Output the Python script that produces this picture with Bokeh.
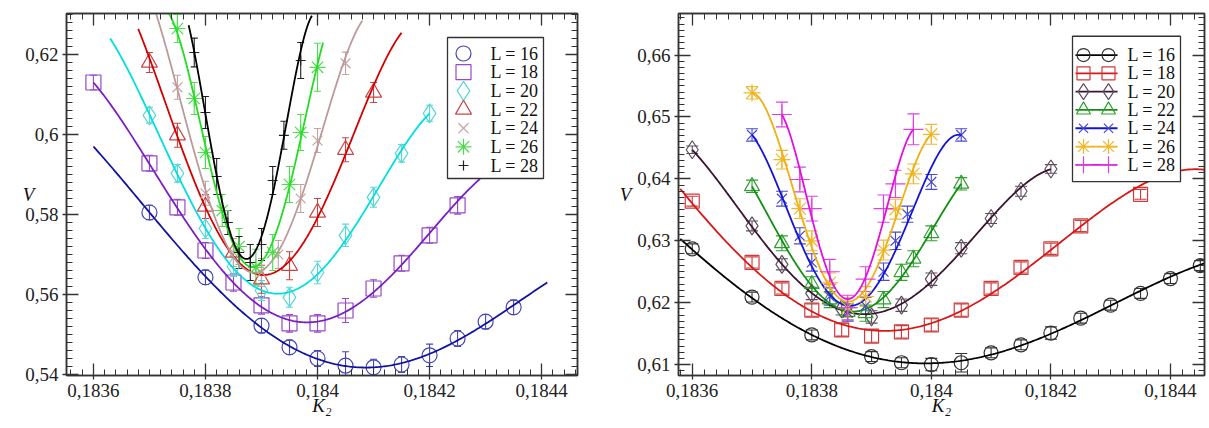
import numpy as np
from numpy.polynomial import Polynomial
from bokeh.plotting import figure
from bokeh.layouts import row
from bokeh.models import (ColumnDataSource, Whisker, TeeHead, LinearAxis, FixedTicker,
                          CustomJSTickFormatter, Range1d)
from bokeh.core.properties import value
from bokeh.embed import file_html
from bokeh.resources import INLINE

SERIF = "Liberation Serif"

sizes = ["L = 16", "L = 18", "L = 20", "L = 22", "L = 24", "L = 26", "L = 28"]

# ---------------- left panel: K2, V, error, fitted-curve end points ----------------
a16_k = [0.1837, 0.1838, 0.1839, 0.18395, 0.1840, 0.18405, 0.1841, 0.18415, 0.1842, 0.18425, 0.1843, 0.18435]
a16_v = [0.5805, 0.5643, 0.5522, 0.5468, 0.5440, 0.5422, 0.5418, 0.5425, 0.5448, 0.5490, 0.5532, 0.5568]
a16_e = [0.0018, 0.0018, 0.0018, 0.0018, 0.0020, 0.0035, 0.0020, 0.0020, 0.0028, 0.0020, 0.0018, 0.0018]
a16_ends = [(0.1836, 0.597), (0.18441, 0.563)]

a18_k = [0.1836, 0.1837, 0.18375, 0.1838, 0.18385, 0.1839, 0.18395, 0.1840, 0.18405, 0.1841, 0.18415, 0.1842, 0.18425]
a18_v = [0.6130, 0.5928, 0.5818, 0.5710, 0.5630, 0.5573, 0.5528, 0.5528, 0.5560, 0.5615, 0.5678, 0.5748, 0.5823]
a18_e = [0.0018, 0.0020, 0.0020, 0.0020, 0.0022, 0.0022, 0.0022, 0.0022, 0.0030, 0.0022, 0.0020, 0.0020, 0.0022]
a18_ends = [(0.1836, 0.613), (0.18429, 0.589)]

a20_k = [0.1837, 0.18375, 0.1838, 0.18385, 0.1839, 0.18395, 0.1840, 0.18405, 0.1841, 0.18415, 0.1842]
a20_v = [0.6048, 0.5903, 0.5765, 0.5670, 0.5610, 0.5593, 0.5655, 0.5748, 0.5843, 0.5953, 0.6053]
a20_e = [0.0020, 0.0022, 0.0025, 0.0025, 0.0025, 0.0025, 0.0028, 0.0028, 0.0025, 0.0022, 0.0020]
a20_ends = [(0.18363, 0.624), (0.1842, 0.6053)]

a22_k = [0.1837, 0.18375, 0.1838, 0.18385, 0.1839, 0.18395, 0.1840, 0.18405, 0.1841]
a22_v = [0.6180, 0.5998, 0.5820, 0.5705, 0.5638, 0.5672, 0.5805, 0.5962, 0.6105]
a22_e = [0.0025, 0.0030, 0.0030, 0.0035, 0.0035, 0.0035, 0.0035, 0.0030, 0.0025]
a22_ends = [(0.18368, 0.6265), (0.18415, 0.6255)]

a24_k = [0.18375, 0.1838, 0.18385, 0.1839, 0.18393, 0.18397, 0.1840, 0.18405]
a24_v = [0.6118, 0.5853, 0.5705, 0.5655, 0.5700, 0.5840, 0.5985, 0.6178]
a24_e = [0.0030, 0.0030, 0.0035, 0.0035, 0.0035, 0.0035, 0.0030, 0.0028]
a24_ends = [(0.18371, 0.631), (0.18408, 0.6285)]

a26_k = [0.18375, 0.18378, 0.1838, 0.18383, 0.18386, 0.18389, 0.18392, 0.18395, 0.18397, 0.1840]
a26_v = [0.6265, 0.6090, 0.5955, 0.5810, 0.5720, 0.5668, 0.5705, 0.5875, 0.6005, 0.6168]
a26_e = [0.0035, 0.0040, 0.0040, 0.0040, 0.0045, 0.0045, 0.0045, 0.0045, 0.0045, 0.0060]
a26_ends = [(0.18373, 0.631), (0.18401, 0.623)]

a28_k = [0.18378, 0.1838, 0.18382, 0.18384, 0.18386, 0.18388, 0.1839, 0.18392, 0.18394, 0.18397]
a28_v = [0.6205, 0.6055, 0.5895, 0.5780, 0.5705, 0.5680, 0.5725, 0.5885, 0.5998, 0.6185]
a28_e = [0.0036, 0.0040, 0.0045, 0.0030, 0.0040, 0.0045, 0.0040, 0.0035, 0.0035, 0.0045]
a28_ends = [(0.18377, 0.6273), (0.18399, 0.6298)]

# ---------------- right panel ----------------
b16_k = [0.1836, 0.1837, 0.1838, 0.1839, 0.18395, 0.1840, 0.18405, 0.1841, 0.18415, 0.1842, 0.18425, 0.1843, 0.18435, 0.1844, 0.18445]
b16_v = [0.6287, 0.6209, 0.6148, 0.6113, 0.6103, 0.6100, 0.6103, 0.6119, 0.6132, 0.6151, 0.6175, 0.6196, 0.6215, 0.6239, 0.6260]
b16_e = [0.0008, 0.0008, 0.0008, 0.0008, 0.0008, 0.0010, 0.0015, 0.0008, 0.0008, 0.0010, 0.0008, 0.0008, 0.0008, 0.0008, 0.0008]
b16_ends = [(0.18358, 0.6303), (0.18446, 0.6265)]

b18_k = [0.1836, 0.1837, 0.18375, 0.1838, 0.18385, 0.1839, 0.18395, 0.1840, 0.18405, 0.1841, 0.18415, 0.1842, 0.18425, 0.18435]
b18_v = [0.6364, 0.6265, 0.6223, 0.6188, 0.6156, 0.6146, 0.6153, 0.6164, 0.6188, 0.6223, 0.6257, 0.6287, 0.6324, 0.6375]
b18_e = [0.0008, 0.0009, 0.0009, 0.0010, 0.0010, 0.0010, 0.0010, 0.0010, 0.0010, 0.0009, 0.0009, 0.0009, 0.0009, 0.0008]
b18_ends = [(0.18358, 0.6383), (0.18446, 0.6415)]

b20_k = [0.1836, 0.1837, 0.18375, 0.1838, 0.18385, 0.1839, 0.18395, 0.1840, 0.18405, 0.1841, 0.18415, 0.1842]
b20_v = [0.6447, 0.6324, 0.6262, 0.6215, 0.6190, 0.6177, 0.6196, 0.6238, 0.6288, 0.6336, 0.6380, 0.6416]
b20_e = [0.0006, 0.0008, 0.0009, 0.0010, 0.0010, 0.0010, 0.0010, 0.0010, 0.0009, 0.0008, 0.0008, 0.0007]
b20_ends = [(0.1836, 0.6447), (0.1842, 0.6416)]

b22_k = [0.1837, 0.18375, 0.1838, 0.18383, 0.18386, 0.18389, 0.18392, 0.18395, 0.18397, 0.1840, 0.18405]
b22_v = [0.6388, 0.6296, 0.6230, 0.6205, 0.6185, 0.6183, 0.6205, 0.6249, 0.6271, 0.6312, 0.6392]
b22_e = [0.0010, 0.0012, 0.0012, 0.0013, 0.0013, 0.0013, 0.0013, 0.0013, 0.0013, 0.0012, 0.0010]
b22_ends = [(0.1837, 0.6388), (0.18405, 0.6392)]

b24_k = [0.1837, 0.18375, 0.18378, 0.1838, 0.18383, 0.18386, 0.18389, 0.18392, 0.18394, 0.18396, 0.1840, 0.18405]
b24_v = [0.6471, 0.6368, 0.6308, 0.6265, 0.6210, 0.6184, 0.6195, 0.6250, 0.6300, 0.6343, 0.6395, 0.6471]
b24_e = [0.0010, 0.0012, 0.0013, 0.0014, 0.0014, 0.0014, 0.0014, 0.0014, 0.0014, 0.0013, 0.0012, 0.0010]
b24_ends = [(0.1837, 0.6471), (0.18405, 0.6471)]

b26_k = [0.1837, 0.18375, 0.18378, 0.1838, 0.18383, 0.18386, 0.18389, 0.18392, 0.18394, 0.18397, 0.1840]
b26_v = [0.6539, 0.6431, 0.6352, 0.6300, 0.6232, 0.6192, 0.6210, 0.6285, 0.6351, 0.6408, 0.6472]
b26_e = [0.0010, 0.0015, 0.0016, 0.0016, 0.0016, 0.0016, 0.0016, 0.0016, 0.0016, 0.0016, 0.0016]
b26_ends = [(0.1837, 0.6539), (0.1840, 0.6472)]

b28_k = [0.18375, 0.18378, 0.1838, 0.18383, 0.18386, 0.18389, 0.18392, 0.18394, 0.18397]
b28_v = [0.6504, 0.6399, 0.6352, 0.6250, 0.6192, 0.6238, 0.6352, 0.6392, 0.6480]
b28_e = [0.0020, 0.0020, 0.0020, 0.0020, 0.0020, 0.0020, 0.0022, 0.0022, 0.0025]
b28_ends = [(0.18375, 0.6504), (0.18397, 0.6480)]

# axis ticks
left_xticks = [0.1836, 0.1838, 0.1840, 0.1842, 0.1844]
left_yticks = [0.54, 0.56, 0.58, 0.60, 0.62]
right_xticks = [0.1836, 0.1838, 0.1840, 0.1842, 0.1844]
right_yticks = [0.61, 0.62, 0.63, 0.64, 0.65, 0.66]

left_series = [(a16_k, a16_v, a16_e, a16_ends), (a18_k, a18_v, a18_e, a18_ends),
               (a20_k, a20_v, a20_e, a20_ends), (a22_k, a22_v, a22_e, a22_ends),
               (a24_k, a24_v, a24_e, a24_ends), (a26_k, a26_v, a26_e, a26_ends),
               (a28_k, a28_v, a28_e, a28_ends)]
right_series = [(b16_k, b16_v, b16_e, b16_ends), (b18_k, b18_v, b18_e, b18_ends),
                (b20_k, b20_v, b20_e, b20_ends), (b22_k, b22_v, b22_e, b22_ends),
                (b24_k, b24_v, b24_e, b24_ends), (b26_k, b26_v, b26_e, b26_ends),
                (b28_k, b28_v, b28_e, b28_ends)]

# styles
left_line_colors = ["#1212a0", "#7a1fc0", "#00dede", "#d40000", "#bc9a9a", "#22dd22", "#000000"]
left_mark_colors = ["#4646b8", "#9848c8", "#5ad6d6", "#c84444", "#c4a2a2", "#4cdd4c", "#222222"]
left_markers = ["circle", "square", "diamond", "triangle", "x", "asterisk", "cross"]
left_msize = [15, 15, 19, 16, 14, 16, 10]

right_line_colors = ["#000000", "#d81818", "#3a1430", "#109010", "#1414d8", "#f0b010", "#e010e0"]
right_mark_colors = ["#333333", "#d03a3a", "#5e4e5e", "#30a030", "#4848d0", "#f0b830", "#e040e0"]
right_markers = ["circle", "square", "diamond", "triangle", "x", "asterisk", "cross"]
right_msize = [14, 14, 18, 15, 14, 17, 20]

fmt = CustomJSTickFormatter(code="return String(parseFloat(tick.toFixed(6))).replace('.', ',');")
blank = CustomJSTickFormatter(code="return '';")
AX = "#333333"


def minor(lo, hi, step):
    n = int(round((hi - lo) / step))
    return [lo + i * step for i in range(n + 1)]


def make_panel(width, borders, xr, yr, xticks, xstep, yticks, ystep, v_standoff):
    left, right, top, bottom = borders
    p = figure(width=width, height=428, x_range=Range1d(*xr), y_range=Range1d(*yr),
               output_backend="svg", toolbar_location=None,
               min_border_left=left, min_border_right=right,
               min_border_top=top, min_border_bottom=bottom)
    p.grid.visible = False
    p.outline_line_color = AX
    p.outline_line_width = 1.5
    xt = FixedTicker(ticks=xticks, minor_ticks=minor(xticks[0] - 0.0002, xticks[-1] + 0.0002, xstep))
    yt = FixedTicker(ticks=yticks, minor_ticks=minor(yticks[0] - 0.02, yticks[-1] + 0.02, ystep))
    for ax, t in ((p.xaxis[0], xt), (p.yaxis[0], yt)):
        ax.ticker = t
        ax.formatter = fmt
        ax.major_label_text_font = SERIF
        ax.major_label_text_font_size = "19px"
        ax.major_label_text_color = "#222222"
        ax.major_label_standoff = 4
        ax.axis_line_color = AX
        ax.axis_line_width = 1.5
        ax.major_tick_line_color = AX
        ax.minor_tick_line_color = AX
        ax.major_tick_line_width = 1.3
        ax.major_tick_in = 12
        ax.major_tick_out = 4
        ax.minor_tick_in = 6
        ax.minor_tick_out = 0
        ax.axis_label_text_font = SERIF
        ax.axis_label_text_font_style = "italic"
        ax.axis_label_text_font_size = "19px"
        ax.axis_label_text_color = "#111111"
    p.xaxis[0].axis_label = "K\u2082"
    p.xaxis[0].axis_label_standoff = -5
    p.yaxis[0].axis_label = "V"
    p.yaxis[0].axis_label_standoff = v_standoff
    try:
        p.yaxis[0].axis_label_orientation = "horizontal"
    except AttributeError:
        pass
    for side, t in (("above", xt), ("right", yt)):
        ax = LinearAxis(ticker=t, formatter=blank, major_label_text_font_size="1px",
                        major_label_standoff=0, axis_line_color=AX, axis_line_width=1.5,
                        major_tick_line_color=AX, minor_tick_line_color=AX,
                        major_tick_line_width=1.3,
                        major_tick_in=12, major_tick_out=0, minor_tick_in=6, minor_tick_out=0)
        p.add_layout(ax, side)
    return p


def draw(p, series, line_colors, mark_colors, markers, msizes, cap):
    for (k, v, e, ends), lc, mc, m, s in zip(series, line_colors, mark_colors, markers, msizes):
        k = np.array(k)
        v = np.array(v)
        e = np.array(e)
        src = ColumnDataSource(dict(k=k, v=v, lo=v - e, hi=v + e))
        p.add_layout(Whisker(source=src, base="k", lower="lo", upper="hi", dimension="height",
                             line_color=mc, line_width=1.1,
                             lower_head=TeeHead(size=cap, line_color=mc, line_width=1.1),
                             upper_head=TeeHead(size=cap, line_color=mc, line_width=1.1)))
        p.scatter("k", "v", source=src, marker=m, size=s, fill_color=None,
                  line_color=mc, line_width=1.2)
        # quartic least-squares fit; the curve's end points are held by extra weight
        fk = np.concatenate([k, [ends[0][0], ends[1][0]]])
        fv = np.concatenate([v, [ends[0][1], ends[1][1]]])
        w = np.concatenate([np.ones(len(k)), [3.0, 3.0]])
        poly = Polynomial.fit(fk, fv, 4, w=w)
        xs = np.linspace(ends[0][0], ends[1][0], 300)
        p.line(xs, poly(xs), line_color=lc, line_width=1.8)


def to_data(xr, yr, fw, fh, sx, sy):
    """Frame pixel offsets (from the top-left corner) to data coordinates."""
    return (xr[0] + (xr[1] - xr[0]) * sx / fw, yr[1] - (yr[1] - yr[0]) * sy / fh)


def legend(p, xr, yr, fw, fh, box, row0, pitch, mark_sx, text_sx, line_sx,
           line_colors, mark_colors, markers, msizes):
    (bx0, by0), (bx1, by1) = to_data(xr, yr, fw, fh, box[0], box[1]), to_data(xr, yr, fw, fh, box[2], box[3])
    p.quad(left=[bx0], right=[bx1], top=[by0], bottom=[by1], fill_color="white",
           line_color="#333333", line_width=1.3)
    rows = [row0 + i * pitch for i in range(len(sizes))]
    ys = [to_data(xr, yr, fw, fh, 0, r)[1] for r in rows]
    if line_sx is not None:
        xa = to_data(xr, yr, fw, fh, line_sx[0], 0)[0]
        xb = to_data(xr, yr, fw, fh, line_sx[1], 0)[0]
        p.segment(x0=[xa] * len(ys), x1=[xb] * len(ys), y0=ys, y1=ys,
                  line_color=line_colors, line_width=1.8)
    for sx in mark_sx:
        mx = to_data(xr, yr, fw, fh, sx, 0)[0]
        for y, mc, m, s in zip(ys, mark_colors, markers, msizes):
            p.scatter([mx], [y], marker=m, size=s, fill_color=None, line_color=mc, line_width=1.2)
    tx = to_data(xr, yr, fw, fh, text_sx, 0)[0]
    p.text(x=[tx] * len(ys), y=ys, text=sizes, text_font=value(SERIF), text_font_size="18px",
           text_baseline="middle", text_align="left", text_color="#111111")


# ---- left panel ----
xr1, yr1 = (0.183552, 0.184464), (0.53975, 0.63025)
p1 = make_panel(600, (66, 23, 13, 53), xr1, yr1, left_xticks, 0.00002, left_yticks, 0.002, -12)
draw(p1, left_series, left_line_colors, left_mark_colors, left_markers, left_msize, 7)
legend(p1, xr1, yr1, 511, 362, (381, 24, 477, 165), 40, 18.67, [397], 424, None,
       left_line_colors, left_mark_colors, left_markers, left_msize)

# ---- right panel ----
xr2, yr2 = (0.183577, 0.184457), (0.60824, 0.66671)
p2 = make_panel(609, (78, 5, 10, 52), xr2, yr2, right_xticks, 0.00002, right_yticks, 0.001, 3)
draw(p2, right_series, right_line_colors, right_mark_colors, right_markers, right_msize, 12)
legend(p2, xr2, yr2, 526, 366, (394, 23, 502, 170), 42, 18.5, [405, 430], 449, (397, 439),
       right_line_colors, right_mark_colors, right_markers, [13, 13, 16, 14, 13, 15, 17])

layout = row(p1, p2)
open("out.html", "w").write(file_html(layout, INLINE))
